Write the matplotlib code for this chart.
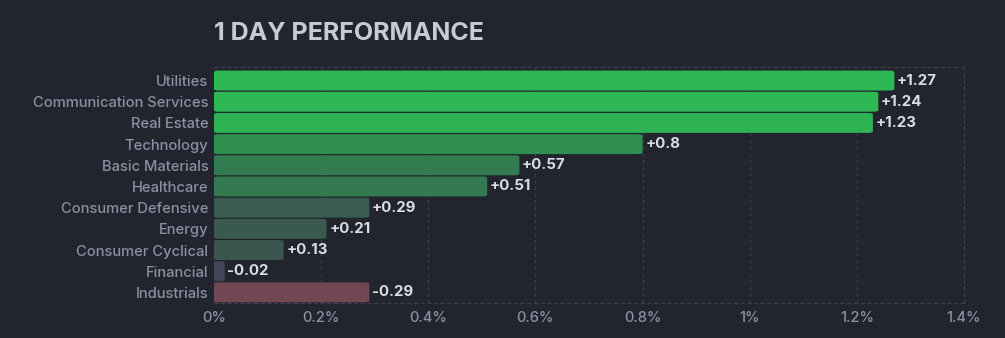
import matplotlib
matplotlib.use("Agg")
import matplotlib.pyplot as plt
from matplotlib.patches import FancyBboxPatch

sectors = ["Utilities", "Communication Services", "Real Estate", "Technology",
           "Basic Materials", "Healthcare", "Consumer Defensive", "Energy",
           "Consumer Cyclical", "Financial", "Industrials"]
changes = [1.27, 1.24, 1.23, 0.8, 0.57, 0.51, 0.29, 0.21, 0.13, -0.02, -0.29]
bar_colors = ["#2eb855", "#2eb855", "#2eb354", "#2f8f4c", "#337c50", "#347a50",
              "#385d50", "#3a5a50", "#3b564f", "#434655", "#714753"]
xticks = [0, 0.2, 0.4, 0.6, 0.8, 1.0, 1.2, 1.4]
xtick_labels = ["0%", "0.2%", "0.4%", "0.6%", "0.8%", "1%", "1.2%", "1.4%"]

bg = "#22252e"
plt.rcParams["font.family"] = ["Inter", "DejaVu Sans"]

fig = plt.figure(figsize=(10.05, 3.38), dpi=100, facecolor=bg)
ax = fig.add_axes([0.2129, 0.1036, 0.7463, 0.6982], facecolor=bg)

ypos = list(range(len(sectors)))
lengths = [abs(v) for v in changes]
bars = ax.barh(ypos, lengths, height=0.94, color=bar_colors)

# swap plain rectangles for slightly rounded ones
for b, c in zip(bars, bar_colors):
    b.set_visible(False)
    x0, y0, w, h = b.get_x(), b.get_y(), b.get_width(), b.get_height()
    rp = FancyBboxPatch((x0, y0), w, h,
                        boxstyle="round,pad=0,rounding_size=0.008",
                        mutation_aspect=10,
                        facecolor=c, edgecolor="none")
    ax.add_patch(rp)

for y, v, w in zip(ypos, changes, lengths):
    lab = f"+{v:g}" if v > 0 else f"{v:g}"
    ax.text(w + 0.005, y, lab, va="center", ha="left", color="#dcdde2",
            fontsize=10.8, fontweight="bold")

ax.set_xlim(0, 1.4)
ax.set_ylim(len(sectors) - 0.5, -0.64)
ax.set_xticks(xticks)
ax.set_xticklabels(xtick_labels, fontweight="medium")
ax.set_yticks(ypos)
ax.set_yticklabels(sectors, fontweight="medium")
ax.tick_params(axis="both", length=0, colors="#8a8fa3", labelsize=10.6)
ax.tick_params(axis="y", pad=4)
ax.tick_params(axis="x", pad=6)
ax.grid(axis="x", color="#3c404c", linestyle=(0, (3, 3)), linewidth=0.8)
ax.set_axisbelow(True)
for side in ["top", "right", "bottom"]:
    ax.spines[side].set_color("#3c404c")
    ax.spines[side].set_linestyle((0, (3, 3)))
    ax.spines[side].set_linewidth(0.8)
ax.spines["left"].set_visible(False)

fig.text(214 / 1005, 1 - 33 / 338, "1 DAY PERFORMANCE", color="#c8cad6",
         fontsize=18, fontweight="bold", va="center", ha="left")

fig.savefig("out.png", dpi=100, facecolor=bg)
